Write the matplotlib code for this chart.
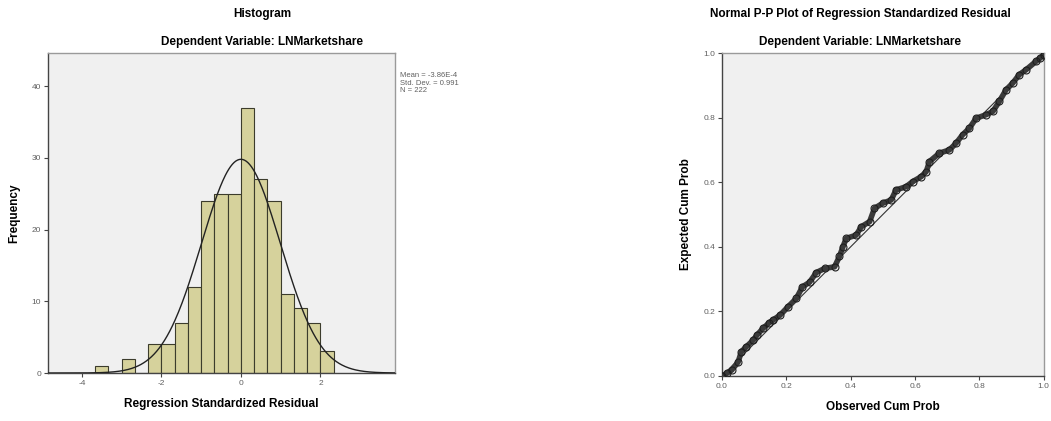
import numpy as np
import matplotlib.pyplot as plt

# histogram of residuals (bin width 1/3)
bin_left = [-11, -10, -9, -8, -7, -6, -5, -4, -3, -2, -1, 0, 1, 2, 3, 4, 5, 6]
bin_left = [b / 3 for b in bin_left]
counts = [1, 0, 2, 0, 4, 4, 7, 12, 24, 25, 25, 37, 27, 24, 11, 9, 7, 3]
res_mean = -3.86e-4
res_sd = 0.991
res_n = 222
stats_txt = "Mean = -3.86E-4\nStd. Dev. = 0.991\nN = 222"

# P-P plot points
obs_cum = [0.0, 0.015, 0.03, 0.05, 0.06, 0.075, 0.096, 0.11, 0.127, 0.145, 0.158, 0.18,
           0.205, 0.231, 0.25, 0.272, 0.293, 0.319, 0.35, 0.365, 0.376, 0.386, 0.417,
           0.433, 0.459, 0.474, 0.5, 0.526, 0.541, 0.572, 0.593, 0.619, 0.635, 0.645,
           0.676, 0.707, 0.728, 0.748, 0.769, 0.79, 0.821, 0.842, 0.862, 0.883, 0.904,
           0.924, 0.945, 0.976, 0.99, 1.0]
exp_cum = [0.0, 0.008, 0.018, 0.043, 0.075, 0.09, 0.11, 0.128, 0.147, 0.163, 0.173, 0.188,
           0.214, 0.24, 0.276, 0.29, 0.32, 0.333, 0.338, 0.37, 0.40, 0.426, 0.436,
           0.462, 0.478, 0.519, 0.535, 0.545, 0.576, 0.586, 0.602, 0.617, 0.633, 0.664,
           0.69, 0.70, 0.721, 0.747, 0.767, 0.798, 0.809, 0.819, 0.85, 0.886, 0.907,
           0.933, 0.948, 0.974, 0.985, 0.995]

plt.rcParams['font.family'] = ['Liberation Sans', 'DejaVu Sans']
plt.rcParams['axes.unicode_minus'] = False
fig = plt.figure(figsize=(10.51, 4.21), dpi=100)
fig.patch.set_facecolor('white')

tick_col = '#606060'
bw = 1 / 3

# ---- histogram ----
ax1 = fig.add_axes([0.0457, 0.114, 0.330, 0.760])
ax1.set_facecolor('#f0f0f0')
ax1.bar(bin_left, counts, width=bw, align='edge', color='#d6d29c',
        edgecolor='#3c3c2c', linewidth=0.8, zorder=2)
xs = np.linspace(-4.85, 3.87, 400)
curve = res_n * bw / (res_sd * np.sqrt(2 * np.pi)) * np.exp(-0.5 * ((xs - res_mean) / res_sd) ** 2)
ax1.plot(xs, curve, color='#222222', lw=1.0, zorder=3)
ax1.set_xlim(-4.85, 3.87)
ax1.set_ylim(0, 44.6)
ax1.set_xticks([-4, -2, 0, 2])
ax1.set_yticks([0, 10, 20, 30, 40])
ax1.set_xlabel("Regression Standardized Residual", fontsize=8.5, fontweight='bold', labelpad=8)
ax1.set_ylabel("Frequency", fontsize=8.5, fontweight='bold', labelpad=8)
fig.text(262 / 1051, 1 - 14 / 421, "Histogram", ha='center', va='center',
         fontsize=8.5, fontweight='bold')
fig.text(262 / 1051, 1 - 42 / 421, "Dependent Variable: LNMarketshare", ha='center',
         va='center', fontsize=8.5, fontweight='bold')
fig.text(400 / 1051, 1 - 72 / 421, stats_txt, ha='left', va='top', fontsize=5.5,
         color='#606060', linespacing=1.15)

# ---- P-P plot ----
ax2 = fig.add_axes([0.687, 0.107, 0.306, 0.767])
ax2.set_facecolor('#f0f0f0')
ax2.plot([0, 1], [0, 1], color='#333333', lw=0.8, zorder=2)
ax2.plot(obs_cum, exp_cum, color='#3a3a3a', lw=4.0, zorder=3, solid_capstyle='round')
ax2.plot(obs_cum, exp_cum, 'o', mfc='none', mec='#1e1e1e', mew=0.8, ms=5, zorder=4)
ax2.set_xlim(0, 1)
ax2.set_ylim(0, 1)
ticks = [0.0, 0.2, 0.4, 0.6, 0.8, 1.0]
ax2.set_xticks(ticks)
ax2.set_yticks(ticks)
ax2.set_xticklabels(["%.1f" % t for t in ticks])
ax2.set_yticklabels(["%.1f" % t for t in ticks])
ax2.set_xlabel("Observed Cum Prob", fontsize=8.5, fontweight='bold', labelpad=8)
ax2.set_ylabel("Expected Cum Prob", fontsize=8.5, fontweight='bold', labelpad=8)
fig.text(860 / 1051, 1 - 14 / 421, "Normal P-P Plot of Regression Standardized Residual",
         ha='center', va='center', fontsize=8.5, fontweight='bold')
fig.text(860 / 1051, 1 - 42 / 421, "Dependent Variable: LNMarketshare", ha='center',
         va='center', fontsize=8.5, fontweight='bold')

for ax in (ax1, ax2):
    for s in ax.spines.values():
        s.set_color('#9a9a9a')
        s.set_linewidth(1.0)
    ax.spines['bottom'].set_color('#444444')
    ax.spines['left'].set_color('#444444')
    ax.tick_params(length=3, width=0.8, color='#444444', labelsize=6, labelcolor=tick_col, pad=2)

fig.savefig("out.png", dpi=100)
